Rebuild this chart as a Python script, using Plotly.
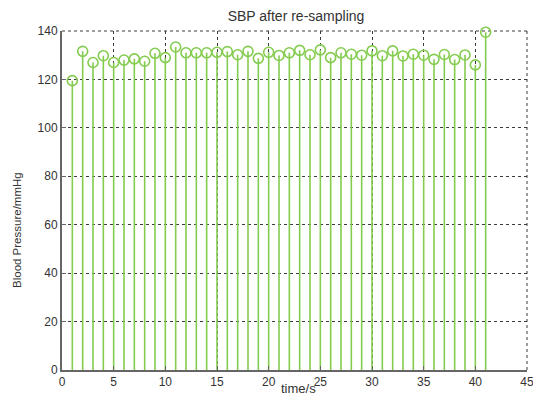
import plotly.graph_objects as go

time_s = list(range(1, 42))
sbp = [119.5, 131.6, 127.0, 129.8, 127.0, 128.0, 128.5, 127.5, 130.8, 129.0,
       133.4, 131.0, 131.0, 131.0, 131.2, 131.5, 130.2, 131.6, 128.7, 131.2,
       129.9, 131.0, 132.0, 130.2, 132.2, 129.0, 131.0, 130.4, 130.0, 131.8,
       129.8, 131.8, 129.7, 130.4, 130.0, 128.3, 130.3, 128.2, 130.1, 126.0,
       139.5]
x_ticks = list(range(0, 46, 5))
y_ticks = list(range(0, 141, 20))

green = "#84cc4f"
grid = "#3a3a3a"
font = "Liberation Sans, Arial, sans-serif"

# page has an 8px body margin; size the figure so the page does not scroll
W, H = 533, 387
L, R, T, B = 54, 14, 23, 25

fig = go.Figure()
fig.add_trace(go.Scatter(
    x=time_s, y=sbp, mode="markers",
    marker=dict(symbol="circle-open", size=10, color=green, line=dict(width=1.6, color=green)),
    error_y=dict(type="data", symmetric=False, array=[0]*len(sbp), arrayminus=sbp,
                 color=green, thickness=1.6, width=0),
    showlegend=False, cliponaxis=False,
))

fig.update_layout(
    width=W, height=H,
    margin=dict(l=L, r=R, t=T, b=B, autoexpand=False),
    paper_bgcolor="white", plot_bgcolor="white",
    title=dict(text="SBP after re-sampling", xref="container", yref="container",
               x=288/W, xanchor="center", y=1-8/H, yanchor="middle",
               font=dict(family=font, size=14, color="#333"), automargin=False),
    font=dict(family=font, size=12, color="#333"),
    xaxis=dict(range=[0, 45], tickvals=x_ticks, showgrid=True, gridcolor=grid,
               griddash="3px,3px", gridwidth=1, showline=True, linecolor="#666", linewidth=2,
               ticks="inside", ticklen=4, tickcolor="#666", zeroline=False, automargin=False,
               tickfont=dict(size=12), ticklabeloverflow="allow"),
    yaxis=dict(range=[0, 140], tickvals=y_ticks, showgrid=True, gridcolor=grid,
               griddash="3px,3px", gridwidth=1, showline=True, linecolor="#666", linewidth=2,
               ticks="inside", ticklen=4, tickcolor="#666", zeroline=False, automargin=False,
               tickfont=dict(size=12)),
    annotations=[
        dict(text="time/s", xref="paper", yref="paper", x=(290-L)/(W-L-R), y=0, yshift=-18,
             xanchor="center", yanchor="middle", showarrow=False,
             font=dict(family=font, size=13, color="#333")),
        dict(text="Blood Pressure/mmHg", xref="paper", yref="paper", x=0, y=0.413, xshift=-45,
             xanchor="center", yanchor="middle", showarrow=False, textangle=-90,
             font=dict(family=font, size=11.5, color="#333")),
    ],
    shapes=[
        dict(type="line", xref="paper", yref="paper", x0=0, x1=1, y0=1, y1=1,
             line=dict(color=grid, width=1, dash="3px,3px"), layer="below"),
        dict(type="line", xref="paper", yref="paper", x0=1, x1=1, y0=0, y1=1,
             line=dict(color=grid, width=1, dash="3px,3px"), layer="below"),
    ],
)
fig.write_html("out.html")
